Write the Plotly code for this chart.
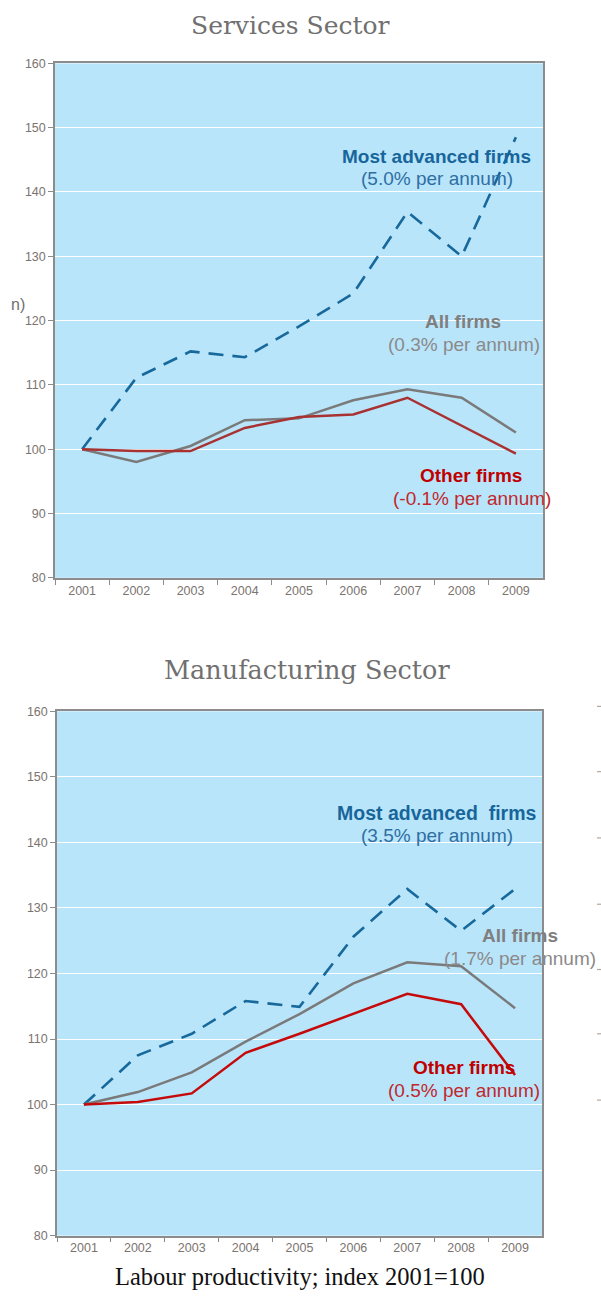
import plotly.graph_objects as go

years = ["2001", "2002", "2003", "2004", "2005", "2006", "2007", "2008", "2009"]

svc_advanced = [100, 111.1, 115.2, 114.3, 119.1, 124.2, 136.9, 130.0, 148.5]
svc_all = [100, 98.0, 100.5, 104.5, 104.8, 107.6, 109.3, 108.0, 102.6]
svc_other = [100, 99.7, 99.7, 103.3, 105.0, 105.4, 108.0, 103.7, 99.3]

mfg_advanced = [100, 107.5, 110.8, 115.8, 114.9, 125.6, 132.9, 126.5, 132.9]
mfg_all = [100, 101.9, 104.9, 109.6, 113.8, 118.5, 121.7, 121.1, 114.7]
mfg_other = [100, 100.4, 101.7, 107.9, 110.8, 113.9, 116.9, 115.3, 104.5]

y_ticks = [80, 90, 100, 110, 120, 130, 140, 150, 160]

W, H = 601, 1298
BLUE = "#18699b"
GRAY = "#7a7a7a"
RED_TOP = "#a83232"
RED_BOT = "#c40a0a"


def px(x):
    return x / W


def py(y):
    return 1 - y / H


fig = go.Figure()

def add_lines(adv, allf, other, red, xa, ya):
    fig.add_trace(go.Scatter(x=years, y=adv, mode="lines", xaxis=xa, yaxis=ya,
                             line=dict(color=BLUE, width=2.6, dash="15px,9px"), showlegend=False))
    fig.add_trace(go.Scatter(x=years, y=allf, mode="lines", xaxis=xa, yaxis=ya,
                             line=dict(color=GRAY, width=2.5), showlegend=False))
    fig.add_trace(go.Scatter(x=years, y=other, mode="lines", xaxis=xa, yaxis=ya,
                             line=dict(color=red, width=2.5), showlegend=False))

add_lines(svc_advanced, svc_all, svc_other, RED_TOP, "x", "y")
add_lines(mfg_advanced, mfg_all, mfg_other, RED_BOT, "x2", "y2")

axis_font = dict(family="Liberation Sans, Arial, sans-serif", size=12.5, color="#7a7470")
xcommon = dict(type="category", categoryorder="array", categoryarray=years,
               range=[-0.5, len(years) - 0.5],
               tickson="boundaries", ticks="outside", ticklen=5, tickcolor="#8c8c8c",
               showline=True, linecolor="#8c8c8c", linewidth=1.5, mirror=True,
               showgrid=False, tickfont=axis_font, fixedrange=True)
ycommon = dict(range=[80, 160], tickvals=y_ticks, ticks="outside", ticklen=5,
               tickcolor="#8c8c8c", showline=True, linecolor="#8c8c8c", linewidth=1.5,
               mirror=True, showgrid=True, gridcolor="white", gridwidth=1.2,
               zeroline=False, tickfont=axis_font, fixedrange=True)

fig.update_layout(
    width=W, height=H,
    margin=dict(l=0, r=0, t=0, b=0),
    paper_bgcolor="white",
    plot_bgcolor="#b9e5fb",
    xaxis=dict(domain=[px(55), px(543)], anchor="y", **xcommon),
    yaxis=dict(domain=[py(577), py(57)], anchor="x", **ycommon),
    xaxis2=dict(domain=[px(57), px(542)], anchor="y2", **xcommon),
    yaxis2=dict(domain=[py(1242), py(712)], anchor="x2", **ycommon),
)

ann = []

def text(x, y, s, size, color, family="Liberation Sans, Arial, sans-serif", bold=False):
    if bold:
        s = "<b>" + s + "</b>"
    ann.append(dict(x=px(x), y=py(y), xref="paper", yref="paper", text=s,
                    showarrow=False, xanchor="center", yanchor="middle",
                    font=dict(family=family, size=size, color=color)))

serif = "DejaVu Serif, Georgia, serif"
text(290, 19, "Services Sector", 25, "#707070", family=serif)
text(307, 670, "Manufacturing Sector", 25.5, "#707070", family=serif)
text(300, 1283, "Labour productivity; index 2001=100", 24.5, "#111111",
     family="Liberation Serif, Times New Roman, serif")
text(18, 301, "n)", 16, "#707070")

# Services annotations
text(436, 151, "Most advanced firms", 19, "#17659a", bold=True)
text(437, 173, "(5.0% per annum)", 19, "#2e6fa3")
text(463, 318, "All firms", 19, "#7f7f7f", bold=True)
text(464, 341, "(0.3% per annum)", 19, "#8a8a8a")
text(471, 474, "Other firms", 19, "#c00000", bold=True)
text(472, 497, "(-0.1% per annum)", 19, "#c0282c")

# Manufacturing annotations
text(437, 815, "Most advanced  firms", 19.5, "#17659a", bold=True)
text(437, 838, "(3.5% per annum)", 19, "#2e6fa3")
text(520, 939, "All firms", 19, "#7f7f7f", bold=True)
text(520, 962, "(1.7% per annum)", 19, "#8a8a8a")
text(464, 1072, "Other firms", 19, "#c00000", bold=True)
text(464, 1095, "(0.5% per annum)", 19, "#c0282c")

fig.update_layout(annotations=ann)

# faint tick marks of a neighbouring (cropped) chart on the right edge
stray_y = [707, 773, 840, 907, 973, 1038, 1105]
fig.update_layout(shapes=[
    dict(type="line", xref="paper", yref="paper", x0=px(597), x1=px(601),
         y0=py(v), y1=py(v), line=dict(color="#b0a8a0", width=1.2))
    for v in stray_y
])

fig.write_html("out.html")
